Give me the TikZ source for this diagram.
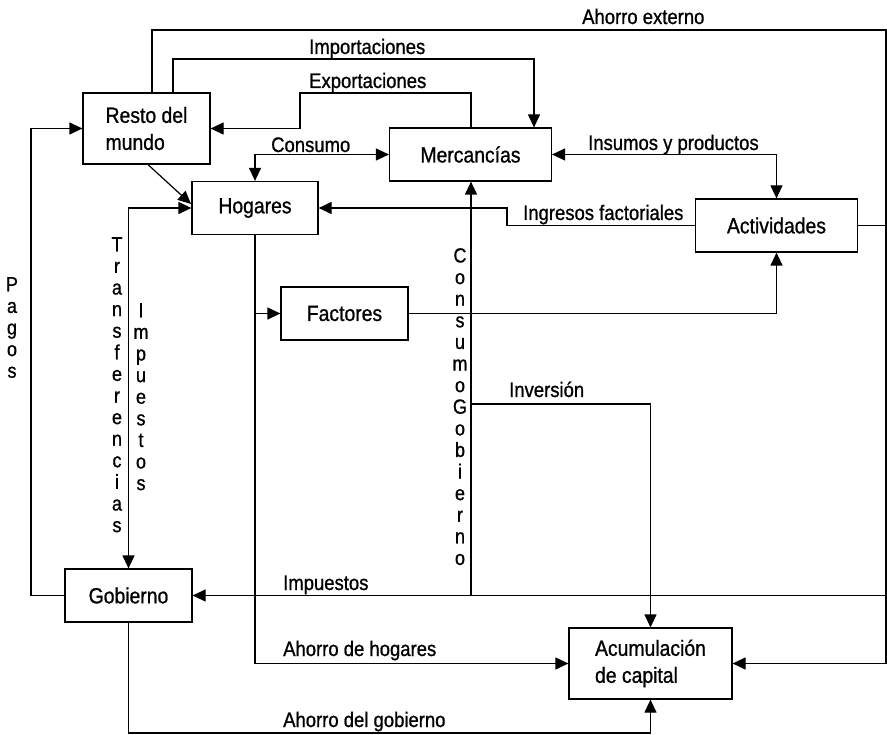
\documentclass[tikz,border=0pt]{standalone}
\usepackage{fontspec}
\setmainfont[FakeStretch=0.88,FakeBold=0.9]{Liberation Sans}
\usetikzlibrary{arrows.meta}
\begin{document}
\begin{tikzpicture}[x=1pt,y=-1pt,
  >={Triangle[length=13pt,width=12pt]},
  box/.style={draw, line width=1.2pt, inner sep=0pt, font=\fontsize{22}{27}\selectfont},
  lbl/.style={anchor=base west, inner sep=0pt, font=\fontsize{21}{24}\selectfont},
  vlbl/.style={anchor=north, inner sep=0pt, align=center, font=\fontsize{20.5}{21.6}\selectfont},
  flow/.style={line width=1.2pt}]
\useasboundingbox (0,0) rectangle (887,735);
% boxes
\node[box, minimum width=127pt, minimum height=71pt, align=left] (rm) at (146.5,128.5) {Resto del\\mundo};
\node[box, minimum width=126pt, minimum height=53pt] (ho) at (255,208) {Hogares};
\node[box, minimum width=162pt, minimum height=53pt] (me) at (470.5,154.5) {Mercancías};
\node[box, minimum width=162pt, minimum height=53pt] (act) at (776.5,225.5) {Actividades};
\node[box, minimum width=127pt, minimum height=53pt] (fa) at (344.5,313.5) {Factores};
\node[box, minimum width=127pt, minimum height=53pt] (gob) at (128.5,595.5) {Gobierno};
\node[box, minimum width=163pt, minimum height=71pt, align=left] (ac) at (650.5,663.5) {Acumulación\\de capital};
% bend points
\coordinate (ae1) at (152,30);
\coordinate (ae2) at (886,30);
\coordinate (ae3) at (886,663.5);
\coordinate (imp1) at (886,595.5);
\coordinate (im1) at (173,59);
\coordinate (im2) at (534,59);
\coordinate (ex1) at (471,93);
\coordinate (ex2) at (300,93);
\coordinate (ex3) at (300,128.5);
\coordinate (co1) at (255,154.5);
\coordinate (dg) at (191,204);
\coordinate (tr1) at (128.5,208);
\coordinate (pa1) at (31,595.5);
\coordinate (pa2) at (31,128.5);
\coordinate (hb) at (255,663.5);
\coordinate (hf) at (255,313.5);
\coordinate (fa1) at (776.5,313.5);
\coordinate (in1) at (507,225.5);
\coordinate (in2) at (507,208);
\coordinate (is1) at (776.5,154.5);
\coordinate (cg1) at (471,595.5);
\coordinate (iv0) at (471,404);
\coordinate (iv1) at (650.5,404);
\coordinate (ag1) at (128.5,733);
\coordinate (ag2) at (650.5,733);
% connectors
\draw[flow,->] (rm.north -| ae1) -- (ae1) -- (ae2) -- (ae3) -- (ac.east);
\draw[flow] (act.east) -- (act.east -| ae2);
\draw[flow,->] (imp1) -- (gob.east);
\draw[flow,->] (rm.north -| im1) -- (im1) -- (im2) -- (im2 |- me.north);
\draw[flow,->] (me.north -| ex1) -- (ex1) -- (ex2) -- (ex3) -- (rm.east);
\draw[flow,<->] (me.west) -- (co1) -- (ho.north);
\draw[flow,->] (rm.south) ++(1.5,0) -- (dg);
\draw[flow,<->] (ho.west) -- (tr1) -- (gob.north);
\draw[flow,->] (gob.west) -- (pa1) -- (pa2) -- (rm.west);
\draw[flow,->] (ho.south) -- (hb) -- (ac.west);
\draw[flow,->] (hf) -- (fa.west);
\draw[flow,->] (fa.east) -- (fa1) -- (act.south);
\draw[flow,->] (act.west) -- (in1) -- (in2) -- (ho.east);
\draw[flow,<->] (me.east) -- (is1) -- (act.north);
\draw[flow,->] (cg1) -- (cg1 |- me.south);
\draw[flow,->] (iv0) -- (iv1) -- (ac.north);
\draw[flow,->] (gob.south) -- (ag1) -- (ag2) -- (ac.south);
% labels
\node[lbl] (l1) at (582,24) {Ahorro externo};
\node[lbl] (l2) at (309,54) {Importaciones};
\node[lbl] (l3) at (309,88) {Exportaciones};
\node[lbl] (l4) at (271,152) {Consumo};
\node[lbl] (l5) at (588,150) {Insumos y productos};
\node[lbl] (l6) at (523,220) {Ingresos factoriales};
\node[lbl] (l7) at (509,397) {Inversión};
\node[lbl] (l8) at (283,590) {Impuestos};
\node[lbl] (l9) at (283,656) {Ahorro de hogares};
\node[lbl] (l10) at (283,727) {Ahorro del gobierno};
% vertical stacked labels
\node[vlbl] (v1) at (117,237) {T\\r\\a\\n\\s\\f\\e\\r\\e\\n\\c\\i\\a\\s};
\node[vlbl] (v2) at (141,303) {I\\m\\p\\u\\e\\s\\t\\o\\s};
\node[vlbl] (v3) at (12,277) {P\\a\\g\\o\\s};
\node[vlbl] (v4) at (460,248) {C\\o\\n\\s\\u\\m\\o\\G\\o\\b\\i\\e\\r\\n\\o};
\end{tikzpicture}
\end{document}
